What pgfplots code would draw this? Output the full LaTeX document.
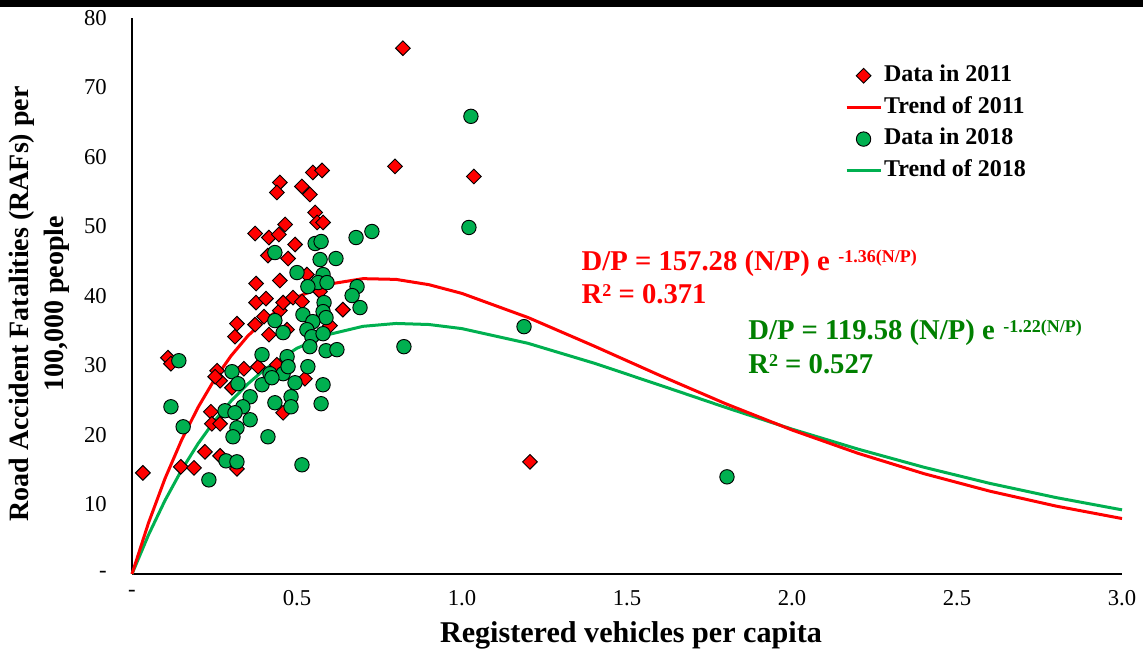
\documentclass[border=0pt]{standalone}
\usepackage{pgfplots}
\pgfplotsset{compat=1.18}
\usepackage{fontspec}
\setmainfont{Liberation Serif}
\definecolor{xlred}{RGB}{255,0,0}
\definecolor{xlgreen}{RGB}{0,176,80}
\definecolor{eqgreen}{RGB}{0,128,0}
\begin{document}
\begin{tikzpicture}
\begin{axis}[
  scale only axis, width=742.5pt, height=417pt,
  xmin=0, xmax=3, ymin=0, ymax=80,
  axis x line=bottom, axis y line=left,
  axis line style={-, line width=2pt, black},
  major tick length=0pt,
  xtick={0,0.5,1,1.5,2,2.5,3},
  xticklabels={-,0.5,1.0,1.5,2.0,2.5,3.0},
  ytick={0,10,20,30,40,50,60,70,80},
  yticklabels={-,10,20,30,40,50,60,70,80},
  /pgf/number format/assume math mode=true,
  tick label style={font=\fontsize{17}{20}\selectfont, inner sep=0pt},
  xticklabel style={anchor=north, yshift=-12pt},
  yticklabel style={anchor=east, xshift=-18.75pt},
  xlabel={Registered vehicles per capita},
  xlabel style={font=\bfseries\fontsize{22.6}{26}\selectfont, at={(axis description cs:0.504,-0.1097)}, anchor=center},
  ylabel={Road Accident Fatalities (RAFs) per\\100,000 people},
  ylabel style={font=\bfseries\fontsize{21}{26}\selectfont, align=center, at={(axis description cs:-0.0936,0.4856)}, anchor=center},
  legend style={at={(axis cs:2.16,73.6)}, anchor=north west, draw=none, fill=none, inner sep=0pt,
    font=\bfseries\fontsize{18}{20}\selectfont, row sep=4.25pt,
    nodes={text height=12.5pt, text depth=4pt, inner sep=1.5pt}},
  legend cell align=left,
  legend image code/.code={\draw[mark repeat=2,mark phase=2,#1] plot coordinates {(0pt,0pt) (12.75pt,0pt) (25.5pt,0pt)};},
  clip=false,
]
% trend lines
\addplot[forget plot, xlgreen, line width=2.25pt] coordinates {
(0,0) (0.05,5.625) (0.1,10.585) (0.15,14.937) (0.2,18.738) (0.25,22.036) (0.3,24.878) (0.35,27.307) (0.4,29.362) (0.5,32.487) (0.6,34.507) (0.7,35.636) (0.8,36.048) (0.9,35.897) (1.0,35.304) (1.2,33.192) (1.4,30.339) (1.6,27.167) (1.8,23.946) (2.0,20.845) (2.2,17.968) (2.4,15.357) (2.6,13.033) (2.8,10.996) (3.0,9.230)};
\addplot[forget plot, xlred, line width=2.25pt] coordinates {
(0,0) (0.05,7.347) (0.1,13.728) (0.15,19.238) (0.2,23.964) (0.25,27.987) (0.3,31.375) (0.35,34.198) (0.4,36.515) (0.5,39.841) (0.6,41.730) (0.7,42.495) (0.8,42.390) (0.9,41.626) (1.0,40.368) (1.2,36.905) (1.4,32.804) (1.6,28.562) (1.8,24.480) (2.0,20.721) (2.2,17.366) (2.4,14.434) (2.6,11.912) (2.8,9.772) (3.0,7.979)};
% data 2011
\addplot[forget plot, only marks, mark=square*, mark size=3.9pt, mark options={rotate=45, fill=xlred, draw=black, line width=0.7pt}] table {
x y
0.033 14.55
0.109 31.12
0.118 30.26
0.148 15.42
0.188 15.27
0.221 17.58
0.267 17.00
0.239 23.34
0.242 21.61
0.267 21.61
0.258 29.25
0.267 27.81
0.252 28.39
0.303 26.80
0.318 15.13
0.339 29.54
0.382 29.83
0.439 30.12
0.524 28.10
0.458 23.20
0.318 36.02
0.312 34.15
0.373 35.88
0.400 37.03
0.415 34.44
0.448 37.90
0.470 35.16
0.376 39.05
0.406 39.63
0.458 39.05
0.488 39.77
0.515 39.19
0.376 41.79
0.448 42.22
0.530 43.08
0.570 40.63
0.600 35.73
0.639 38.04
0.412 45.82
0.473 45.39
0.373 48.99
0.415 48.41
0.445 48.85
0.464 50.29
0.494 47.41
0.448 56.34
0.439 54.90
0.515 55.76
0.539 54.61
0.548 57.78
0.576 58.07
0.555 52.02
0.561 50.58
0.579 50.58
0.797 58.65
0.821 75.65
1.036 57.20
1.206 16.14
};
% data 2018
\addplot[forget plot, only marks, mark=*, mark size=5.4pt, mark options={fill=xlgreen, draw=black, line width=0.7pt}] table {
x y
1.027 65.85
1.021 49.86
1.188 35.59
0.824 32.71
1.803 13.98
0.727 49.28
0.679 48.41
0.555 47.55
0.573 47.84
0.433 46.25
0.570 45.24
0.618 45.39
0.500 43.37
0.579 43.08
0.564 41.93
0.591 41.93
0.533 41.35
0.682 41.35
0.667 40.06
0.691 38.33
0.582 39.05
0.579 37.75
0.588 36.89
0.518 37.32
0.548 36.31
0.433 36.46
0.458 34.73
0.530 35.16
0.545 34.15
0.579 34.58
0.539 32.71
0.588 32.13
0.621 32.28
0.394 31.56
0.470 31.27
0.142 30.69
0.533 29.83
0.418 28.82
0.458 28.82
0.303 29.11
0.321 27.38
0.394 27.23
0.424 28.24
0.473 29.83
0.494 27.52
0.579 27.23
0.482 25.50
0.482 24.06
0.433 24.64
0.573 24.50
0.358 25.50
0.336 24.06
0.358 22.19
0.282 23.49
0.312 23.20
0.318 21.04
0.306 19.74
0.118 24.06
0.155 21.18
0.412 19.74
0.285 16.28
0.318 16.14
0.233 13.54
0.515 15.71
};
% legend
\addlegendimage{only marks, mark=square*, mark size=3.9pt, mark options={rotate=45, fill=xlred, draw=black, line width=0.7pt}}
\addlegendentry{Data in 2011}
\addlegendimage{xlred, line width=2.25pt}
\addlegendentry{Trend of 2011}
\addlegendimage{only marks, mark=*, mark size=5.4pt, mark options={fill=xlgreen, draw=black, line width=0.7pt}}
\addlegendentry{Data in 2018}
\addlegendimage{xlgreen, line width=2.25pt}
\addlegendentry{Trend of 2018}
% equations
\node[anchor=base west, text=xlred, font=\bfseries\fontsize{21.5}{24}\selectfont, inner sep=0pt] at (axis cs:1.362,43.74) {D/P = 157.28 (N/P) e\hspace{0.3em}\raisebox{5.5pt}{\fontsize{13.5}{15}\selectfont -1.36(N/P)}};
\node[anchor=base west, text=xlred, font=\bfseries\fontsize{21.5}{24}\selectfont, inner sep=0pt] at (axis cs:1.362,38.85) {R\raisebox{5.5pt}{\fontsize{13.5}{15}\selectfont 2} = 0.371};
\node[anchor=base west, text=eqgreen, font=\bfseries\fontsize{21.5}{24}\selectfont, inner sep=0pt] at (axis cs:1.867,33.67) {D/P = 119.58 (N/P) e\hspace{0.3em}\raisebox{5.5pt}{\fontsize{13.5}{15}\selectfont -1.22(N/P)}};
\node[anchor=base west, text=eqgreen, font=\bfseries\fontsize{21.5}{24}\selectfont, inner sep=0pt] at (axis cs:1.867,28.78) {R\raisebox{5.5pt}{\fontsize{13.5}{15}\selectfont 2} = 0.527};
\end{axis}
\fill[black] (-99pt,425.25pt) rectangle (758.25pt,431pt);
\pgfresetboundingbox
\path[use as bounding box] (-99pt,-58.5pt) rectangle (758.25pt,430.5pt);
\end{tikzpicture}
\end{document}
